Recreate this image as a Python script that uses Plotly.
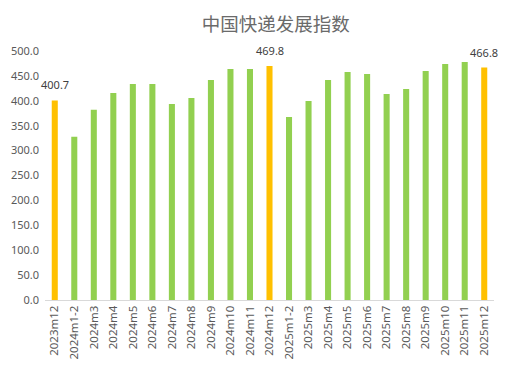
import plotly.graph_objects as go

categories = ["2023m12", "2024m1-2", "2024m3", "2024m4", "2024m5", "2024m6", "2024m7",
              "2024m8", "2024m9", "2024m10", "2024m11", "2024m12", "2025m1-2", "2025m3",
              "2025m4", "2025m5", "2025m6", "2025m7", "2025m8", "2025m9", "2025m10",
              "2025m11", "2025m12"]
values = [400.7, 327.6, 381.8, 415.8, 433.9, 433.9, 393.8, 405.8, 441.9, 463.9, 464.0,
          469.8, 367.7, 399.8, 441.9, 457.9, 453.9, 413.8, 423.8, 459.9, 474.0, 478.0, 466.8]
highlight = ["2023m12", "2024m12", "2025m12"]

colors = ["#FFC000" if c in highlight else "#92D050" for c in categories]

fig = go.Figure(go.Bar(
    x=categories, y=values, marker_color=colors, marker_line_width=0,
    cliponaxis=False, hoverinfo="x+y",
))

for c, v in zip(categories, values):
    if c in highlight:
        fig.add_annotation(x=c, y=v, text=f"{v:.1f}", showarrow=False,
                           xanchor="center", yanchor="bottom", yshift=6,
                           font=dict(size=11, color="#404040", family="Noto Sans"))

fig.update_layout(
    width=508, height=371,
    margin=dict(l=45, r=14, t=51, b=71, autoexpand=False),
    paper_bgcolor="white", plot_bgcolor="white",
    title=dict(text="中国快递发展指数", x=0.543, xanchor="center", y=0.935, yanchor="middle",
               font=dict(size=18.5, color="#6a6a6a", family="Noto Sans CJK SC")),
    bargap=0.69,
    showlegend=False,
    font=dict(family="Noto Sans", color="#595959"),
)
fig.update_xaxes(type="category", range=[-0.5, len(categories) - 0.5], tickangle=-90,
                 tickfont=dict(size=11.5, color="#595959"),
                 showline=True, linecolor="#D9D9D9", linewidth=1, ticks="", showgrid=False,
                 automargin=False)
fig.update_yaxes(range=[0, 500], tickvals=list(range(0, 501, 50)), tickformat=".1f",
                 tickfont=dict(size=11, color="#595959"), showgrid=False, zeroline=False,
                 showline=False, ticks="", automargin=False, ticklabelstandoff=5)

fig.write_html(
    "out.html",
    config={"displayModeBar": False},
    post_script="document.body.style.margin='0';document.body.style.overflow='hidden';",
)
